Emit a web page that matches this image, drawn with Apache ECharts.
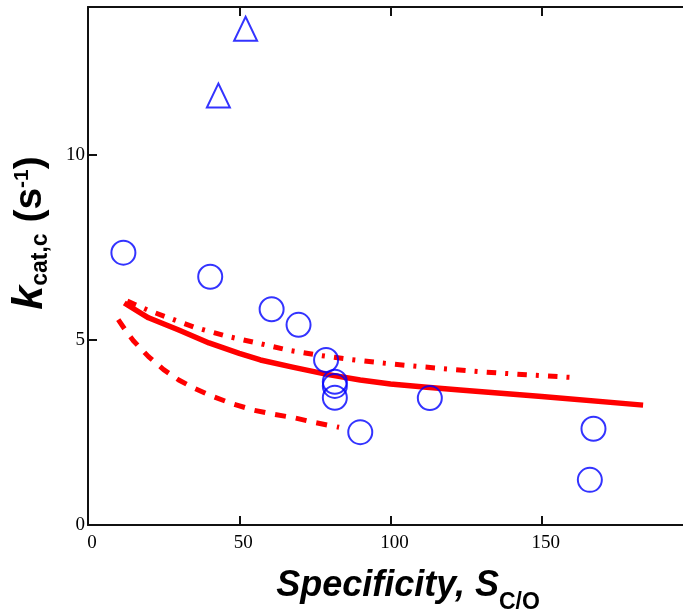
<!DOCTYPE html>
<html>
<head>
<meta charset="utf-8">
<script src="https://cdn.jsdelivr.net/npm/echarts@6/dist/echarts.min.js"></script>
<style>
  html, body { margin: 0; padding: 0; background: #fff; }
  #chart { width: 683px; height: 616px; }
</style>
</head>
<body>
<div id="chart"></div>
<script>
// Measured enzymes (open circles) and the two high outliers (open triangles)
const circleX = [11.7, 40.4, 60.7, 69.6, 78.7, 81.6, 81.6, 81.6, 90.0, 113.0, 167.1, 165.9];
const circleY = [7.36, 6.71, 5.83, 5.41, 4.46, 3.87, 3.76, 3.44, 2.51, 3.43, 2.60, 1.22];
const triangleX = [43.1, 52.1];
const triangleY = [11.61, 13.41];

// Model curves
const solidX = [12, 20, 30, 40, 50, 57, 68, 79, 90, 100, 112, 123, 150, 183.5];
const solidY = [6.0, 5.6, 5.27, 4.92, 4.64, 4.46, 4.26, 4.07, 3.92, 3.81, 3.72, 3.65, 3.47, 3.24];
const dashDotX = [13, 20, 26, 35, 46, 57, 66.5, 77, 87, 97, 107, 117, 130, 145, 159.5];
const dashDotY = [6.05, 5.8, 5.62, 5.35, 5.1, 4.9, 4.72, 4.58, 4.47, 4.38, 4.3, 4.23, 4.14, 4.06, 3.99];
const dashedX = [10, 12.5, 15, 20, 25, 30, 35, 41, 48, 55, 61, 68, 75, 83];
const dashedY = [5.55, 5.25, 4.98, 4.55, 4.2, 3.92, 3.7, 3.48, 3.27, 3.1, 3.0, 2.9, 2.77, 2.64];

// Axis ticks
const xTickLabels = [0, 50, 100, 150];
const yTickLabels = [0, 5, 10];

const pairs = (xs, ys) => xs.map((x, i) => [x, ys[i]]);

const AXIS_COLOR = '#111';
const RED = '#ff0000';
const BLUE = '#0000ff';
const sans = '"Liberation Sans", Arial, sans-serif';
const serif = '"Liberation Serif", "Times New Roman", serif';

const chart = echarts.init(document.getElementById('chart'), null, { renderer: 'canvas' });

const axisLine = { show: true, onZero: false, lineStyle: { color: AXIS_COLOR, width: 2 } };
const axisTick = { show: true, inside: true, length: 9, lineStyle: { color: AXIS_COLOR, width: 2 } };

chart.setOption({
  animation: false,
  backgroundColor: '#fff',
  // the frame runs past the right edge of the canvas
  grid: { left: 88, right: -10, top: 7, bottom: 91, containLabel: false, outerBoundsMode: 'none' },
  xAxis: [
    {
      type: 'value', position: 'bottom', min: 0, max: 200, interval: 50,
      axisLine, axisTick, splitLine: { show: false },
      axisLabel: {
        color: '#000', fontFamily: serif, fontSize: 19, margin: 9, padding: [0, 0, 0, 8],
        formatter: v => (xTickLabels.includes(v) ? String(v) : '')
      }
    },
    {
      type: 'value', position: 'top', min: 0, max: 200, interval: 50,
      axisLine, axisTick, splitLine: { show: false }, axisLabel: { show: false }
    }
  ],
  yAxis: [
    {
      type: 'value', position: 'left', min: 0, max: 14, interval: 5,
      axisLine, axisTick, splitLine: { show: false },
      axisLabel: {
        color: '#000', fontFamily: serif, fontSize: 19, margin: 3, padding: [5, 0, 0, 0],
        formatter: v => (yTickLabels.includes(v) ? String(v) : '')
      }
    }
  ],
  series: [
    {
      type: 'line', data: pairs(solidX, solidY), symbol: 'none', z: 2,
      lineStyle: { color: RED, width: 5.5, cap: 'butt', join: 'round' }
    },
    {
      type: 'line', data: pairs(dashDotX, dashDotY), symbol: 'none', z: 2,
      lineStyle: { color: RED, width: 5, type: [9.5, 9, 3, 9.2], cap: 'butt' }
    },
    {
      type: 'line', data: pairs(dashedX, dashedY), symbol: 'none', z: 2,
      lineStyle: { color: RED, width: 5, type: [11, 10], cap: 'butt' }
    },
    {
      type: 'scatter', data: pairs(circleX, circleY), symbol: 'circle', symbolSize: 24, z: 3,
      itemStyle: { color: 'rgba(0,0,0,0)', borderColor: BLUE, borderWidth: 2 }
    },
    {
      type: 'scatter', data: pairs(triangleX, triangleY), symbol: 'triangle', symbolSize: [23, 24], z: 3,
      itemStyle: { color: 'rgba(0,0,0,0)', borderColor: BLUE, borderWidth: 2 }
    }
  ],
  graphic: [
    {
      type: 'text', x: 408, y: 586.5, z: 10,
      style: {
        text: '{m|Specificity, S}{s|C/O}',
        align: 'center', verticalAlign: 'middle',
        rich: {
          m: { fontFamily: sans, fontSize: 36, fontWeight: 'bold', fontStyle: 'italic', fill: '#000', lineHeight: 44 },
          s: { fontFamily: sans, fontSize: 23, fontWeight: 'bold', fill: '#000', verticalAlign: 'top', padding: [27, 0, 0, 0], lineHeight: 10 }
        }
      }
    },
    {
      type: 'text', x: 30, y: 233, rotation: Math.PI / 2, z: 10,
      style: {
        text: '{k|k}{sub|cat,c}{m| (s}{sup|-1}{m|)}',
        align: 'center', verticalAlign: 'middle',
        rich: {
          k: { fontFamily: sans, fontSize: 43, fontWeight: 'bold', fontStyle: 'italic', fill: '#000', lineHeight: 44 },
          m: { fontFamily: sans, fontSize: 39, fontWeight: 'bold', fill: '#000', lineHeight: 44 },
          sub: { fontFamily: sans, fontSize: 23, fontWeight: 'bold', fill: '#000', verticalAlign: 'top', padding: [21, 0, 0, 0], lineHeight: 10 },
          sup: { fontFamily: sans, fontSize: 21, fontWeight: 'bold', fill: '#000', verticalAlign: 'top', padding: [4, 0, 0, 0], lineHeight: 10 }
        }
      }
    }
  ]
});
</script>
</body>
</html>
